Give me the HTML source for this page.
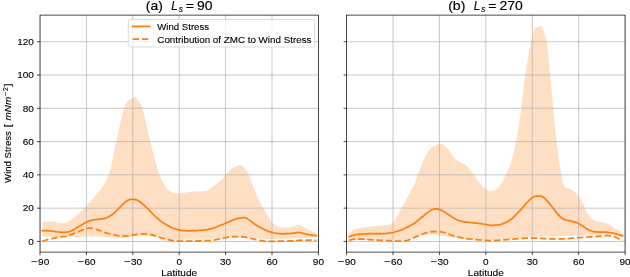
<!DOCTYPE html>
<html><head><meta charset="utf-8"><title>Wind Stress</title>
<style>html,body{margin:0;padding:0;background:#fff}body{width:630px;height:277px;overflow:hidden;font-family:"Liberation Sans",sans-serif}</style>
</head><body>
<svg width="630" height="277" viewBox="0 0 630 277" style="display:block;will-change:transform;font-family:'Liberation Sans',sans-serif">
<rect x="0" y="0" width="630" height="277" fill="#ffffff"/>
<defs>
<clipPath id="c0"><rect x="40.00" y="15.10" width="278.40" height="237.00"/></clipPath>
<clipPath id="c1"><rect x="346.60" y="15.10" width="278.50" height="237.00"/></clipPath>
</defs>
<g clip-path="url(#c0)">
<path d="M42.3,222.1 L43.3,221.9 L44.3,221.7 L45.3,221.6 L46.3,221.5 L47.3,221.4 L48.3,221.4 L49.3,221.4 L50.3,221.5 L51.3,221.5 L52.3,221.6 L53.3,221.7 L54.3,221.7 L55.3,221.9 L56.3,222.2 L57.3,222.5 L58.3,222.7 L59.3,222.9 L60.3,222.9 L61.3,222.9 L62.3,222.9 L63.3,222.9 L64.3,222.9 L65.3,222.8 L66.3,222.5 L67.3,222.1 L68.3,221.5 L69.3,221.0 L70.3,220.4 L71.3,219.7 L72.3,218.9 L73.3,218.1 L74.3,217.2 L75.3,216.4 L76.3,215.5 L77.3,214.6 L78.3,213.7 L79.3,212.7 L80.3,211.8 L81.3,210.8 L82.3,209.9 L83.3,208.9 L84.3,207.9 L85.3,206.8 L86.3,205.8 L87.3,204.7 L88.3,203.6 L89.3,202.4 L90.3,201.3 L91.3,200.1 L92.3,199.0 L93.3,197.9 L94.3,196.7 L95.3,195.6 L96.3,194.5 L97.3,193.4 L98.3,192.2 L99.3,191.0 L100.3,189.7 L101.3,188.4 L102.3,187.1 L103.3,185.6 L104.3,184.1 L105.3,182.4 L106.3,180.6 L107.3,178.5 L108.3,176.0 L109.3,173.1 L110.3,169.5 L111.3,165.6 L112.3,161.4 L113.3,156.7 L114.3,151.3 L115.3,145.5 L116.3,140.9 L117.3,136.7 L118.3,132.2 L119.3,127.7 L120.3,123.2 L121.3,118.7 L122.3,114.5 L123.3,110.6 L124.3,107.4 L125.3,105.1 L126.3,103.2 L127.3,101.7 L128.3,100.5 L129.3,99.7 L130.3,99.1 L131.3,98.7 L132.3,98.2 L133.3,97.7 L134.3,97.3 L135.3,97.1 L136.3,97.6 L137.3,99.2 L138.3,100.9 L139.3,102.3 L140.3,103.4 L141.3,104.9 L142.3,107.5 L143.3,111.7 L144.3,115.6 L145.3,119.6 L146.3,123.9 L147.3,128.7 L148.3,133.3 L149.3,137.3 L150.3,141.3 L151.3,145.3 L152.3,149.7 L153.3,154.0 L154.3,158.0 L155.3,161.8 L156.3,165.3 L157.3,168.6 L158.3,171.6 L159.3,174.3 L160.3,176.8 L161.3,179.1 L162.3,181.2 L163.3,183.1 L164.3,184.9 L165.3,186.5 L166.3,187.8 L167.3,188.9 L168.3,189.9 L169.3,190.7 L170.3,191.4 L171.3,192.0 L172.3,192.5 L173.3,192.9 L174.3,193.2 L175.3,193.4 L176.3,193.4 L177.3,193.3 L178.3,193.2 L179.3,193.1 L180.3,193.0 L181.3,192.9 L182.3,192.8 L183.3,192.7 L184.3,192.6 L185.3,192.6 L186.3,192.5 L187.3,192.3 L188.3,192.2 L189.3,192.0 L190.3,191.7 L191.3,191.5 L192.3,191.3 L193.3,191.2 L194.3,191.2 L195.3,191.2 L196.3,191.3 L197.3,191.3 L198.3,191.4 L199.3,191.4 L200.3,191.4 L201.3,191.4 L202.3,191.3 L203.3,191.3 L204.3,191.2 L205.3,191.1 L206.3,190.9 L207.3,190.5 L208.3,189.9 L209.3,189.1 L210.3,188.4 L211.3,187.7 L212.3,187.0 L213.3,186.2 L214.3,185.4 L215.3,184.7 L216.3,183.9 L217.3,183.2 L218.3,182.5 L219.3,181.7 L220.3,180.9 L221.3,180.0 L222.3,179.1 L223.3,178.1 L224.3,177.0 L225.3,175.8 L226.3,174.5 L227.3,173.0 L228.3,171.7 L229.3,170.7 L230.3,169.9 L231.3,169.1 L232.3,168.5 L233.3,167.8 L234.3,167.2 L235.3,166.7 L236.3,166.2 L237.3,165.9 L238.3,165.6 L239.3,165.3 L240.3,165.2 L241.3,165.4 L242.3,166.2 L243.3,167.2 L244.3,168.2 L245.3,169.3 L246.3,170.5 L247.3,172.1 L248.3,174.0 L249.3,176.2 L250.3,178.7 L251.3,181.5 L252.3,184.2 L253.3,186.9 L254.3,189.7 L255.3,192.3 L256.3,194.7 L257.3,196.7 L258.3,198.7 L259.3,200.6 L260.3,202.6 L261.3,204.6 L262.3,206.5 L263.3,208.4 L264.3,210.1 L265.3,211.7 L266.3,213.3 L267.3,215.0 L268.3,216.8 L269.3,218.5 L270.3,219.9 L271.3,221.2 L272.3,222.4 L273.3,223.4 L274.3,224.2 L275.3,225.0 L276.3,225.6 L277.3,226.2 L278.3,226.6 L279.3,227.0 L280.3,227.3 L281.3,227.5 L282.3,227.6 L283.3,227.6 L284.3,227.6 L285.3,227.6 L286.3,227.6 L287.3,227.6 L288.3,227.5 L289.3,227.4 L290.3,227.2 L291.3,227.0 L292.3,226.7 L293.3,226.4 L294.3,226.0 L295.3,225.7 L296.3,225.3 L297.3,225.0 L298.3,224.8 L299.3,224.9 L300.3,225.3 L301.3,225.7 L302.3,226.2 L303.3,226.6 L304.3,227.1 L305.3,227.7 L306.3,228.3 L307.3,229.0 L308.3,229.8 L309.3,230.4 L310.3,230.8 L311.3,231.0 L312.3,231.2 L313.3,231.5 L314.3,231.8 L315.3,232.1 L316.3,232.4 L316.3,237.8 L315.3,237.8 L314.3,237.8 L313.3,237.8 L312.3,237.8 L311.3,237.8 L310.3,237.8 L309.3,237.8 L308.3,237.8 L307.3,237.8 L306.3,237.9 L305.3,237.9 L304.3,237.9 L303.3,237.9 L302.3,237.9 L301.3,237.9 L300.3,238.0 L299.3,238.0 L298.3,238.1 L297.3,238.1 L296.3,238.2 L295.3,238.3 L294.3,238.3 L293.3,238.4 L292.3,238.5 L291.3,238.5 L290.3,238.6 L289.3,238.6 L288.3,238.7 L287.3,238.8 L286.3,238.8 L285.3,238.9 L284.3,238.9 L283.3,239.0 L282.3,239.1 L281.3,239.1 L280.3,239.2 L279.3,239.2 L278.3,239.2 L277.3,239.3 L276.3,239.3 L275.3,239.3 L274.3,239.3 L273.3,239.3 L272.3,239.3 L271.3,239.2 L270.3,239.2 L269.3,239.1 L268.3,239.1 L267.3,239.0 L266.3,238.9 L265.3,238.9 L264.3,238.8 L263.3,238.7 L262.3,238.7 L261.3,238.6 L260.3,238.5 L259.3,238.4 L258.3,238.4 L257.3,238.3 L256.3,238.2 L255.3,238.1 L254.3,237.9 L253.3,237.8 L252.3,237.7 L251.3,237.6 L250.3,237.5 L249.3,237.4 L248.3,237.3 L247.3,237.3 L246.3,237.2 L245.3,237.2 L244.3,237.2 L243.3,237.2 L242.3,237.2 L241.3,237.2 L240.3,237.3 L239.3,237.3 L238.3,237.3 L237.3,237.3 L236.3,237.4 L235.3,237.4 L234.3,237.4 L233.3,237.5 L232.3,237.5 L231.3,237.5 L230.3,237.6 L229.3,237.6 L228.3,237.7 L227.3,237.8 L226.3,237.8 L225.3,237.9 L224.3,238.0 L223.3,238.1 L222.3,238.2 L221.3,238.3 L220.3,238.4 L219.3,238.5 L218.3,238.6 L217.3,238.6 L216.3,238.7 L215.3,238.8 L214.3,238.8 L213.3,238.9 L212.3,239.0 L211.3,239.0 L210.3,239.1 L209.3,239.1 L208.3,239.2 L207.3,239.2 L206.3,239.3 L205.3,239.3 L204.3,239.4 L203.3,239.4 L202.3,239.5 L201.3,239.5 L200.3,239.5 L199.3,239.5 L198.3,239.5 L197.3,239.5 L196.3,239.5 L195.3,239.5 L194.3,239.5 L193.3,239.5 L192.3,239.5 L191.3,239.6 L190.3,239.6 L189.3,239.6 L188.3,239.6 L187.3,239.6 L186.3,239.6 L185.3,239.6 L184.3,239.6 L183.3,239.7 L182.3,239.7 L181.3,239.8 L180.3,239.9 L179.3,240.0 L178.3,240.1 L177.3,240.2 L176.3,240.3 L175.3,240.3 L174.3,240.3 L173.3,240.3 L172.3,240.2 L171.3,240.1 L170.3,240.1 L169.3,240.0 L168.3,239.8 L167.3,239.7 L166.3,239.6 L165.3,239.5 L164.3,239.3 L163.3,239.2 L162.3,239.0 L161.3,238.8 L160.3,238.6 L159.3,238.3 L158.3,238.0 L157.3,237.8 L156.3,237.5 L155.3,237.3 L154.3,237.1 L153.3,236.9 L152.3,236.7 L151.3,236.5 L150.3,236.3 L149.3,236.2 L148.3,236.1 L147.3,236.0 L146.3,236.0 L145.3,236.0 L144.3,236.1 L143.3,236.1 L142.3,236.2 L141.3,236.2 L140.3,236.3 L139.3,236.4 L138.3,236.5 L137.3,236.6 L136.3,236.6 L135.3,236.7 L134.3,236.8 L133.3,236.9 L132.3,236.9 L131.3,237.0 L130.3,237.1 L129.3,237.2 L128.3,237.3 L127.3,237.4 L126.3,237.5 L125.3,237.6 L124.3,237.6 L123.3,237.7 L122.3,237.8 L121.3,237.8 L120.3,237.9 L119.3,237.9 L118.3,237.9 L117.3,237.9 L116.3,237.9 L115.3,237.8 L114.3,237.8 L113.3,237.7 L112.3,237.7 L111.3,237.6 L110.3,237.5 L109.3,237.4 L108.3,237.4 L107.3,237.3 L106.3,237.2 L105.3,237.2 L104.3,237.1 L103.3,237.1 L102.3,237.0 L101.3,237.0 L100.3,236.9 L99.3,236.8 L98.3,236.8 L97.3,236.7 L96.3,236.7 L95.3,236.6 L94.3,236.6 L93.3,236.6 L92.3,236.5 L91.3,236.5 L90.3,236.5 L89.3,236.5 L88.3,236.5 L87.3,236.5 L86.3,236.6 L85.3,236.6 L84.3,236.7 L83.3,236.7 L82.3,236.8 L81.3,236.8 L80.3,236.9 L79.3,236.9 L78.3,236.9 L77.3,237.0 L76.3,237.0 L75.3,237.0 L74.3,237.0 L73.3,237.0 L72.3,237.0 L71.3,237.0 L70.3,237.0 L69.3,237.0 L68.3,237.0 L67.3,237.0 L66.3,237.0 L65.3,237.0 L64.3,237.0 L63.3,237.0 L62.3,237.0 L61.3,237.0 L60.3,237.0 L59.3,237.0 L58.3,237.0 L57.3,237.0 L56.3,237.0 L55.3,237.0 L54.3,237.0 L53.3,236.9 L52.3,236.9 L51.3,236.9 L50.3,236.9 L49.3,236.9 L48.3,236.8 L47.3,236.8 L46.3,236.8 L45.3,236.8 L44.3,236.8 L43.3,236.7 L42.3,236.7Z" fill="#ffdfc3" stroke="none"/>
<line x1="40.00" y1="15.10" x2="40.00" y2="252.10" stroke="#b0b0b0" stroke-width="0.7"/>
<line x1="86.40" y1="15.10" x2="86.40" y2="252.10" stroke="#b0b0b0" stroke-width="0.7"/>
<line x1="132.80" y1="15.10" x2="132.80" y2="252.10" stroke="#b0b0b0" stroke-width="0.7"/>
<line x1="179.20" y1="15.10" x2="179.20" y2="252.10" stroke="#b0b0b0" stroke-width="0.7"/>
<line x1="225.60" y1="15.10" x2="225.60" y2="252.10" stroke="#b0b0b0" stroke-width="0.7"/>
<line x1="272.00" y1="15.10" x2="272.00" y2="252.10" stroke="#b0b0b0" stroke-width="0.7"/>
<line x1="318.40" y1="15.10" x2="318.40" y2="252.10" stroke="#b0b0b0" stroke-width="0.7"/>
<line x1="40.00" y1="241.45" x2="318.40" y2="241.45" stroke="#b0b0b0" stroke-width="0.7"/>
<line x1="40.00" y1="208.16" x2="318.40" y2="208.16" stroke="#b0b0b0" stroke-width="0.7"/>
<line x1="40.00" y1="174.87" x2="318.40" y2="174.87" stroke="#b0b0b0" stroke-width="0.7"/>
<line x1="40.00" y1="141.58" x2="318.40" y2="141.58" stroke="#b0b0b0" stroke-width="0.7"/>
<line x1="40.00" y1="108.29" x2="318.40" y2="108.29" stroke="#b0b0b0" stroke-width="0.7"/>
<line x1="40.00" y1="75.00" x2="318.40" y2="75.00" stroke="#b0b0b0" stroke-width="0.7"/>
<line x1="40.00" y1="41.71" x2="318.40" y2="41.71" stroke="#b0b0b0" stroke-width="0.7"/>
<path d="M42.3,230.5 L43.3,230.5 L44.3,230.6 L45.3,230.6 L46.3,230.7 L47.3,230.7 L48.3,230.8 L49.3,230.9 L50.3,231.0 L51.3,231.1 L52.3,231.2 L53.3,231.3 L54.3,231.5 L55.3,231.6 L56.3,231.7 L57.3,231.9 L58.3,232.0 L59.3,232.1 L60.3,232.2 L61.3,232.2 L62.3,232.3 L63.3,232.3 L64.3,232.3 L65.3,232.2 L66.3,232.1 L67.3,232.0 L68.3,231.8 L69.3,231.6 L70.3,231.2 L71.3,230.8 L72.3,230.4 L73.3,229.9 L74.3,229.4 L75.3,228.7 L76.3,228.1 L77.3,227.5 L78.3,226.9 L79.3,226.3 L80.3,225.8 L81.3,225.2 L82.3,224.5 L83.3,223.9 L84.3,223.3 L85.3,222.7 L86.3,222.1 L87.3,221.7 L88.3,221.3 L89.3,220.9 L90.3,220.6 L91.3,220.3 L92.3,220.1 L93.3,220.0 L94.3,219.8 L95.3,219.7 L96.3,219.5 L97.3,219.4 L98.3,219.3 L99.3,219.2 L100.3,219.1 L101.3,218.9 L102.3,218.8 L103.3,218.6 L104.3,218.4 L105.3,218.1 L106.3,217.7 L107.3,217.3 L108.3,216.9 L109.3,216.4 L110.3,215.8 L111.3,215.2 L112.3,214.5 L113.3,213.7 L114.3,212.8 L115.3,211.9 L116.3,210.9 L117.3,209.9 L118.3,208.9 L119.3,207.9 L120.3,206.9 L121.3,205.9 L122.3,204.9 L123.3,203.9 L124.3,203.0 L125.3,202.1 L126.3,201.3 L127.3,200.7 L128.3,200.1 L129.3,199.7 L130.3,199.5 L131.3,199.4 L132.3,199.3 L133.3,199.3 L134.3,199.3 L135.3,199.6 L136.3,199.9 L137.3,200.2 L138.3,200.7 L139.3,201.3 L140.3,202.0 L141.3,202.8 L142.3,203.6 L143.3,204.6 L144.3,205.5 L145.3,206.4 L146.3,207.4 L147.3,208.4 L148.3,209.4 L149.3,210.4 L150.3,211.4 L151.3,212.4 L152.3,213.4 L153.3,214.5 L154.3,215.5 L155.3,216.5 L156.3,217.4 L157.3,218.2 L158.3,219.1 L159.3,219.9 L160.3,220.7 L161.3,221.4 L162.3,222.2 L163.3,222.9 L164.3,223.6 L165.3,224.2 L166.3,224.8 L167.3,225.4 L168.3,225.9 L169.3,226.4 L170.3,226.9 L171.3,227.4 L172.3,227.9 L173.3,228.3 L174.3,228.6 L175.3,229.0 L176.3,229.2 L177.3,229.5 L178.3,229.7 L179.3,229.9 L180.3,230.1 L181.3,230.3 L182.3,230.4 L183.3,230.6 L184.3,230.6 L185.3,230.7 L186.3,230.8 L187.3,230.8 L188.3,230.8 L189.3,230.8 L190.3,230.8 L191.3,230.8 L192.3,230.7 L193.3,230.7 L194.3,230.7 L195.3,230.7 L196.3,230.6 L197.3,230.6 L198.3,230.5 L199.3,230.4 L200.3,230.4 L201.3,230.3 L202.3,230.2 L203.3,230.1 L204.3,230.0 L205.3,229.9 L206.3,229.8 L207.3,229.6 L208.3,229.4 L209.3,229.1 L210.3,228.9 L211.3,228.7 L212.3,228.4 L213.3,228.2 L214.3,227.9 L215.3,227.5 L216.3,227.1 L217.3,226.7 L218.3,226.2 L219.3,225.8 L220.3,225.4 L221.3,225.0 L222.3,224.6 L223.3,224.2 L224.3,223.8 L225.3,223.3 L226.3,222.9 L227.3,222.5 L228.3,222.0 L229.3,221.6 L230.3,221.1 L231.3,220.6 L232.3,220.2 L233.3,219.7 L234.3,219.4 L235.3,219.0 L236.3,218.8 L237.3,218.5 L238.3,218.3 L239.3,218.1 L240.3,218.0 L241.3,217.9 L242.3,217.8 L243.3,217.7 L244.3,217.6 L245.3,217.6 L246.3,217.9 L247.3,218.6 L248.3,219.4 L249.3,220.1 L250.3,220.9 L251.3,221.6 L252.3,222.4 L253.3,223.1 L254.3,223.8 L255.3,224.5 L256.3,225.1 L257.3,225.8 L258.3,226.4 L259.3,227.0 L260.3,227.5 L261.3,228.0 L262.3,228.6 L263.3,229.0 L264.3,229.5 L265.3,230.0 L266.3,230.4 L267.3,230.8 L268.3,231.2 L269.3,231.6 L270.3,231.9 L271.3,232.2 L272.3,232.5 L273.3,232.8 L274.3,233.0 L275.3,233.2 L276.3,233.3 L277.3,233.4 L278.3,233.6 L279.3,233.7 L280.3,233.7 L281.3,233.8 L282.3,233.8 L283.3,233.8 L284.3,233.8 L285.3,233.7 L286.3,233.7 L287.3,233.6 L288.3,233.6 L289.3,233.5 L290.3,233.5 L291.3,233.4 L292.3,233.3 L293.3,233.2 L294.3,233.1 L295.3,232.9 L296.3,232.7 L297.3,232.5 L298.3,232.4 L299.3,232.5 L300.3,232.6 L301.3,232.9 L302.3,233.1 L303.3,233.3 L304.3,233.6 L305.3,233.8 L306.3,234.1 L307.3,234.3 L308.3,234.6 L309.3,234.8 L310.3,235.0 L311.3,235.1 L312.3,235.2 L313.3,235.3 L314.3,235.4 L315.3,235.5 L316.3,235.5" fill="none" stroke="#ff7f0e" stroke-width="1.75" stroke-linecap="square" stroke-linejoin="round"/>
<path d="M42.3,241.4 L43.3,241.0 L44.3,240.6 L45.3,240.3 L46.3,240.0 L47.3,239.7 L48.3,239.4 L49.3,239.2 L50.3,238.9 L51.3,238.7 L52.3,238.5 L53.3,238.3 L54.3,238.1 L55.3,237.9 L56.3,237.7 L57.3,237.5 L58.3,237.3 L59.3,237.1 L60.3,236.9 L61.3,236.8 L62.3,236.7 L63.3,236.6 L64.3,236.5 L65.3,236.4 L66.3,236.2 L67.3,235.9 L68.3,235.6 L69.3,235.2 L70.3,234.8 L71.3,234.4 L72.3,234.1 L73.3,233.7 L74.3,233.3 L75.3,232.9 L76.3,232.5 L77.3,232.1 L78.3,231.7 L79.3,231.3 L80.3,230.8 L81.3,230.4 L82.3,230.1 L83.3,229.7 L84.3,229.3 L85.3,229.0 L86.3,228.6 L87.3,228.3 L88.3,228.2 L89.3,228.2 L90.3,228.2 L91.3,228.3 L92.3,228.3 L93.3,228.5 L94.3,228.8 L95.3,229.1 L96.3,229.4 L97.3,229.8 L98.3,230.1 L99.3,230.4 L100.3,230.8 L101.3,231.2 L102.3,231.6 L103.3,232.0 L104.3,232.4 L105.3,232.7 L106.3,233.0 L107.3,233.3 L108.3,233.5 L109.3,233.8 L110.3,234.0 L111.3,234.3 L112.3,234.5 L113.3,234.7 L114.3,234.9 L115.3,235.1 L116.3,235.3 L117.3,235.5 L118.3,235.7 L119.3,235.8 L120.3,235.9 L121.3,236.0 L122.3,236.0 L123.3,236.1 L124.3,236.1 L125.3,236.1 L126.3,236.0 L127.3,235.9 L128.3,235.8 L129.3,235.7 L130.3,235.5 L131.3,235.3 L132.3,235.1 L133.3,234.9 L134.3,234.8 L135.3,234.6 L136.3,234.5 L137.3,234.3 L138.3,234.2 L139.3,234.1 L140.3,234.0 L141.3,234.0 L142.3,233.9 L143.3,233.9 L144.3,233.9 L145.3,234.0 L146.3,234.0 L147.3,234.1 L148.3,234.1 L149.3,234.3 L150.3,234.4 L151.3,234.7 L152.3,234.9 L153.3,235.2 L154.3,235.5 L155.3,235.8 L156.3,236.1 L157.3,236.5 L158.3,236.8 L159.3,237.1 L160.3,237.5 L161.3,237.8 L162.3,238.1 L163.3,238.4 L164.3,238.7 L165.3,239.0 L166.3,239.2 L167.3,239.5 L168.3,239.7 L169.3,239.9 L170.3,240.2 L171.3,240.3 L172.3,240.5 L173.3,240.6 L174.3,240.7 L175.3,240.8 L176.3,240.9 L177.3,240.9 L178.3,240.9 L179.3,241.0 L180.3,241.0 L181.3,241.0 L182.3,241.0 L183.3,241.0 L184.3,241.0 L185.3,241.0 L186.3,241.0 L187.3,241.0 L188.3,241.0 L189.3,241.0 L190.3,241.0 L191.3,241.0 L192.3,241.0 L193.3,241.0 L194.3,240.9 L195.3,240.9 L196.3,240.9 L197.3,240.9 L198.3,240.9 L199.3,240.9 L200.3,240.9 L201.3,240.9 L202.3,240.8 L203.3,240.8 L204.3,240.8 L205.3,240.7 L206.3,240.7 L207.3,240.6 L208.3,240.6 L209.3,240.5 L210.3,240.5 L211.3,240.4 L212.3,240.3 L213.3,240.2 L214.3,240.0 L215.3,239.8 L216.3,239.6 L217.3,239.4 L218.3,239.2 L219.3,239.0 L220.3,238.8 L221.3,238.6 L222.3,238.4 L223.3,238.2 L224.3,238.0 L225.3,237.8 L226.3,237.6 L227.3,237.4 L228.3,237.2 L229.3,237.1 L230.3,236.9 L231.3,236.8 L232.3,236.7 L233.3,236.7 L234.3,236.6 L235.3,236.6 L236.3,236.6 L237.3,236.6 L238.3,236.6 L239.3,236.6 L240.3,236.7 L241.3,236.8 L242.3,236.8 L243.3,236.9 L244.3,237.1 L245.3,237.2 L246.3,237.4 L247.3,237.6 L248.3,237.8 L249.3,238.0 L250.3,238.2 L251.3,238.5 L252.3,238.7 L253.3,239.0 L254.3,239.2 L255.3,239.4 L256.3,239.6 L257.3,239.9 L258.3,240.1 L259.3,240.3 L260.3,240.4 L261.3,240.6 L262.3,240.7 L263.3,240.9 L264.3,241.0 L265.3,241.1 L266.3,241.2 L267.3,241.2 L268.3,241.3 L269.3,241.3 L270.3,241.4 L271.3,241.4 L272.3,241.4 L273.3,241.4 L274.3,241.4 L275.3,241.4 L276.3,241.3 L277.3,241.3 L278.3,241.2 L279.3,241.2 L280.3,241.2 L281.3,241.2 L282.3,241.1 L283.3,241.1 L284.3,241.1 L285.3,241.1 L286.3,241.0 L287.3,241.0 L288.3,241.0 L289.3,240.9 L290.3,240.9 L291.3,240.8 L292.3,240.8 L293.3,240.7 L294.3,240.7 L295.3,240.6 L296.3,240.5 L297.3,240.5 L298.3,240.4 L299.3,240.3 L300.3,240.2 L301.3,240.2 L302.3,240.2 L303.3,240.1 L304.3,240.1 L305.3,240.0 L306.3,240.0 L307.3,240.0 L308.3,240.0 L309.3,240.0 L310.3,240.0 L311.3,240.1 L312.3,240.1 L313.3,240.1 L314.3,240.2 L315.3,240.3 L316.3,240.5" fill="none" stroke="#ff7f0e" stroke-width="1.75" stroke-dasharray="6.45 2.8" stroke-linecap="butt" stroke-linejoin="round"/>
</g>
<line x1="40.00" y1="252.10" x2="40.00" y2="255.15" stroke="#000" stroke-width="0.7"/>
<line x1="86.40" y1="252.10" x2="86.40" y2="255.15" stroke="#000" stroke-width="0.7"/>
<line x1="132.80" y1="252.10" x2="132.80" y2="255.15" stroke="#000" stroke-width="0.7"/>
<line x1="179.20" y1="252.10" x2="179.20" y2="255.15" stroke="#000" stroke-width="0.7"/>
<line x1="225.60" y1="252.10" x2="225.60" y2="255.15" stroke="#000" stroke-width="0.7"/>
<line x1="272.00" y1="252.10" x2="272.00" y2="255.15" stroke="#000" stroke-width="0.7"/>
<line x1="318.40" y1="252.10" x2="318.40" y2="255.15" stroke="#000" stroke-width="0.7"/>
<line x1="36.95" y1="241.45" x2="40.00" y2="241.45" stroke="#000" stroke-width="0.7"/>
<line x1="36.95" y1="208.16" x2="40.00" y2="208.16" stroke="#000" stroke-width="0.7"/>
<line x1="36.95" y1="174.87" x2="40.00" y2="174.87" stroke="#000" stroke-width="0.7"/>
<line x1="36.95" y1="141.58" x2="40.00" y2="141.58" stroke="#000" stroke-width="0.7"/>
<line x1="36.95" y1="108.29" x2="40.00" y2="108.29" stroke="#000" stroke-width="0.7"/>
<line x1="36.95" y1="75.00" x2="40.00" y2="75.00" stroke="#000" stroke-width="0.7"/>
<line x1="36.95" y1="41.71" x2="40.00" y2="41.71" stroke="#000" stroke-width="0.7"/>
<rect x="40.00" y="15.10" width="278.40" height="237.00" fill="none" stroke="#000" stroke-width="0.7"/>
<text x="31.11" y="265.10" font-size="9.20" textLength="6.66" lengthAdjust="spacingAndGlyphs" fill="#000" stroke="#000" stroke-width="0.12" >−</text><text x="38.10" y="265.10" font-size="9.20" textLength="11.15" lengthAdjust="spacingAndGlyphs" fill="#000" stroke="#000" stroke-width="0.12" >90</text>
<text x="77.51" y="265.10" font-size="9.20" textLength="6.66" lengthAdjust="spacingAndGlyphs" fill="#000" stroke="#000" stroke-width="0.12" >−</text><text x="84.50" y="265.10" font-size="9.20" textLength="11.15" lengthAdjust="spacingAndGlyphs" fill="#000" stroke="#000" stroke-width="0.12" >60</text>
<text x="123.91" y="265.10" font-size="9.20" textLength="6.66" lengthAdjust="spacingAndGlyphs" fill="#000" stroke="#000" stroke-width="0.12" >−</text><text x="130.90" y="265.10" font-size="9.20" textLength="11.15" lengthAdjust="spacingAndGlyphs" fill="#000" stroke="#000" stroke-width="0.12" >30</text>
<text x="176.41" y="265.10" font-size="9.20" textLength="5.57" lengthAdjust="spacingAndGlyphs" fill="#000" stroke="#000" stroke-width="0.12" >0</text>
<text x="220.03" y="265.10" font-size="9.20" textLength="11.15" lengthAdjust="spacingAndGlyphs" fill="#000" stroke="#000" stroke-width="0.12" >30</text>
<text x="266.43" y="265.10" font-size="9.20" textLength="11.15" lengthAdjust="spacingAndGlyphs" fill="#000" stroke="#000" stroke-width="0.12" >60</text>
<text x="312.83" y="265.10" font-size="9.20" textLength="11.15" lengthAdjust="spacingAndGlyphs" fill="#000" stroke="#000" stroke-width="0.12" >90</text>
<text x="161.17" y="276.30" font-size="9.20" textLength="36.06" lengthAdjust="spacingAndGlyphs" fill="#000" stroke="#000" stroke-width="0.12" >Latitude</text>
<g clip-path="url(#c1)">
<path d="M349.0,234.1 L350.0,232.8 L351.0,231.7 L352.0,230.8 L353.0,230.1 L354.0,229.5 L355.0,229.1 L356.0,228.8 L357.0,228.6 L358.0,228.3 L359.0,228.2 L360.0,228.0 L361.0,227.8 L362.0,227.6 L363.0,227.5 L364.0,227.3 L365.0,227.2 L366.0,227.1 L367.0,226.9 L368.0,226.8 L369.0,226.6 L370.0,226.5 L371.0,226.4 L372.0,226.3 L373.0,226.2 L374.0,226.1 L375.0,226.0 L376.0,226.0 L377.0,225.9 L378.0,225.9 L379.0,225.8 L380.0,225.7 L381.0,225.7 L382.0,225.6 L383.0,225.5 L384.0,225.4 L385.0,225.3 L386.0,225.2 L387.0,225.1 L388.0,224.9 L389.0,224.5 L390.0,224.0 L391.0,223.4 L392.0,222.9 L393.0,222.2 L394.0,221.1 L395.0,219.6 L396.0,217.9 L397.0,216.3 L398.0,214.6 L399.0,212.8 L400.0,210.9 L401.0,209.0 L402.0,207.1 L403.0,205.2 L404.0,203.4 L405.0,201.6 L406.0,199.8 L407.0,198.1 L408.0,196.4 L409.0,194.4 L410.0,192.4 L411.0,190.7 L412.0,189.2 L413.0,187.3 L414.0,185.0 L415.0,182.5 L416.0,180.0 L417.0,177.4 L418.0,174.8 L419.0,172.1 L420.0,169.4 L421.0,166.7 L422.0,164.0 L423.0,161.5 L424.0,159.2 L425.0,157.1 L426.0,155.2 L427.0,153.5 L428.0,151.8 L429.0,150.2 L430.0,148.9 L431.0,148.0 L432.0,147.2 L433.0,146.5 L434.0,145.9 L435.0,145.4 L436.0,144.9 L437.0,144.5 L438.0,144.3 L439.0,144.3 L440.0,144.3 L441.0,144.3 L442.0,144.3 L443.0,144.5 L444.0,145.1 L445.0,146.0 L446.0,146.9 L447.0,147.9 L448.0,149.2 L449.0,150.5 L450.0,151.8 L451.0,153.3 L452.0,154.9 L453.0,156.2 L454.0,157.4 L455.0,158.5 L456.0,159.4 L457.0,160.2 L458.0,160.8 L459.0,161.4 L460.0,161.9 L461.0,162.4 L462.0,162.9 L463.0,163.4 L464.0,163.8 L465.0,164.3 L466.0,165.0 L467.0,166.1 L468.0,167.3 L469.0,168.6 L470.0,169.8 L471.0,171.1 L472.0,172.4 L473.0,173.8 L474.0,175.1 L475.0,176.5 L476.0,178.0 L477.0,179.5 L478.0,180.9 L479.0,182.3 L480.0,183.6 L481.0,184.8 L482.0,186.0 L483.0,187.1 L484.0,188.0 L485.0,188.8 L486.0,189.6 L487.0,190.2 L488.0,190.6 L489.0,190.7 L490.0,190.7 L491.0,190.7 L492.0,190.7 L493.0,190.7 L494.0,190.6 L495.0,190.2 L496.0,189.6 L497.0,188.8 L498.0,187.9 L499.0,186.8 L500.0,185.4 L501.0,183.8 L502.0,182.1 L503.0,180.4 L504.0,178.6 L505.0,176.6 L506.0,174.6 L507.0,172.5 L508.0,170.2 L509.0,167.8 L510.0,165.2 L511.0,162.4 L512.0,159.3 L513.0,155.5 L514.0,150.7 L515.0,145.9 L516.0,141.6 L517.0,137.1 L518.0,131.7 L519.0,125.7 L520.0,118.9 L521.0,111.1 L522.0,101.9 L523.0,93.0 L524.0,84.4 L525.0,76.4 L526.0,70.2 L527.0,64.2 L528.0,57.8 L529.0,52.5 L530.0,47.7 L531.0,42.6 L532.0,37.7 L533.0,32.9 L534.0,29.2 L535.0,28.2 L536.0,27.6 L537.0,27.3 L538.0,26.9 L539.0,26.5 L540.0,26.0 L541.0,25.6 L542.0,26.3 L543.0,29.5 L544.0,32.8 L545.0,35.4 L546.0,38.6 L547.0,43.6 L548.0,51.0 L549.0,62.0 L550.0,72.9 L551.0,83.9 L552.0,94.9 L553.0,106.4 L554.0,117.2 L555.0,126.7 L556.0,135.7 L557.0,144.5 L558.0,153.0 L559.0,160.4 L560.0,167.0 L561.0,173.1 L562.0,178.3 L563.0,182.7 L564.0,185.3 L565.0,186.9 L566.0,187.6 L567.0,188.0 L568.0,188.3 L569.0,188.7 L570.0,189.1 L571.0,189.6 L572.0,190.2 L573.0,190.8 L574.0,191.5 L575.0,192.3 L576.0,193.2 L577.0,194.1 L578.0,195.1 L579.0,196.3 L580.0,197.8 L581.0,199.6 L582.0,201.6 L583.0,203.6 L584.0,205.9 L585.0,208.1 L586.0,210.2 L587.0,212.1 L588.0,213.9 L589.0,215.5 L590.0,216.8 L591.0,218.0 L592.0,219.0 L593.0,219.7 L594.0,220.3 L595.0,220.7 L596.0,221.0 L597.0,221.3 L598.0,221.4 L599.0,221.6 L600.0,221.7 L601.0,221.8 L602.0,222.0 L603.0,222.3 L604.0,222.6 L605.0,222.9 L606.0,223.2 L607.0,223.6 L608.0,224.1 L609.0,224.6 L610.0,225.1 L611.0,225.7 L612.0,226.3 L613.0,226.9 L614.0,227.5 L615.0,228.2 L616.0,228.8 L617.0,229.4 L618.0,229.9 L619.0,230.5 L620.0,231.1 L621.0,231.8 L622.0,232.4 L622.6,232.8 L622.6,237.4 L622.0,237.3 L621.0,237.0 L620.0,236.8 L619.0,236.5 L618.0,236.3 L617.0,236.0 L616.0,235.8 L615.0,235.5 L614.0,235.2 L613.0,235.0 L612.0,234.9 L611.0,234.8 L610.0,234.8 L609.0,234.7 L608.0,234.7 L607.0,234.6 L606.0,234.6 L605.0,234.6 L604.0,234.6 L603.0,234.7 L602.0,234.7 L601.0,234.8 L600.0,234.9 L599.0,235.0 L598.0,235.1 L597.0,235.2 L596.0,235.3 L595.0,235.3 L594.0,235.3 L593.0,235.4 L592.0,235.4 L591.0,235.4 L590.0,235.4 L589.0,235.4 L588.0,235.5 L587.0,235.5 L586.0,235.5 L585.0,235.5 L584.0,235.5 L583.0,235.6 L582.0,235.6 L581.0,235.6 L580.0,235.6 L579.0,235.7 L578.0,235.7 L577.0,235.7 L576.0,235.7 L575.0,235.8 L574.0,235.8 L573.0,235.8 L572.0,235.9 L571.0,235.9 L570.0,235.9 L569.0,235.9 L568.0,236.0 L567.0,236.0 L566.0,236.0 L565.0,236.0 L564.0,236.1 L563.0,236.1 L562.0,236.1 L561.0,236.1 L560.0,236.2 L559.0,236.2 L558.0,236.2 L557.0,236.2 L556.0,236.2 L555.0,236.3 L554.0,236.3 L553.0,236.3 L552.0,236.3 L551.0,236.3 L550.0,236.3 L549.0,236.3 L548.0,236.3 L547.0,236.3 L546.0,236.3 L545.0,236.3 L544.0,236.4 L543.0,236.4 L542.0,236.4 L541.0,236.4 L540.0,236.4 L539.0,236.4 L538.0,236.4 L537.0,236.4 L536.0,236.5 L535.0,236.5 L534.0,236.6 L533.0,236.6 L532.0,236.7 L531.0,236.8 L530.0,236.9 L529.0,237.0 L528.0,237.1 L527.0,237.2 L526.0,237.3 L525.0,237.4 L524.0,237.5 L523.0,237.7 L522.0,237.8 L521.0,238.0 L520.0,238.1 L519.0,238.2 L518.0,238.3 L517.0,238.3 L516.0,238.4 L515.0,238.5 L514.0,238.6 L513.0,238.7 L512.0,238.7 L511.0,238.8 L510.0,238.9 L509.0,238.9 L508.0,239.0 L507.0,239.1 L506.0,239.1 L505.0,239.2 L504.0,239.3 L503.0,239.3 L502.0,239.4 L501.0,239.5 L500.0,239.6 L499.0,239.6 L498.0,239.7 L497.0,239.8 L496.0,239.8 L495.0,239.8 L494.0,239.9 L493.0,239.9 L492.0,239.9 L491.0,239.9 L490.0,239.9 L489.0,239.9 L488.0,239.9 L487.0,239.9 L486.0,239.9 L485.0,239.9 L484.0,239.9 L483.0,239.9 L482.0,239.9 L481.0,239.9 L480.0,239.9 L479.0,239.9 L478.0,239.9 L477.0,239.9 L476.0,239.9 L475.0,239.8 L474.0,239.8 L473.0,239.7 L472.0,239.7 L471.0,239.6 L470.0,239.5 L469.0,239.4 L468.0,239.3 L467.0,239.2 L466.0,239.1 L465.0,239.0 L464.0,238.9 L463.0,238.8 L462.0,238.7 L461.0,238.6 L460.0,238.5 L459.0,238.4 L458.0,238.2 L457.0,238.1 L456.0,237.9 L455.0,237.8 L454.0,237.7 L453.0,237.5 L452.0,237.4 L451.0,237.3 L450.0,237.1 L449.0,237.0 L448.0,236.8 L447.0,236.6 L446.0,236.4 L445.0,236.2 L444.0,236.0 L443.0,235.8 L442.0,235.6 L441.0,235.4 L440.0,235.2 L439.0,235.1 L438.0,234.9 L437.0,234.7 L436.0,234.6 L435.0,234.5 L434.0,234.4 L433.0,234.3 L432.0,234.3 L431.0,234.2 L430.0,234.2 L429.0,234.2 L428.0,234.3 L427.0,234.4 L426.0,234.5 L425.0,234.7 L424.0,234.8 L423.0,235.0 L422.0,235.2 L421.0,235.5 L420.0,235.8 L419.0,236.2 L418.0,236.5 L417.0,236.8 L416.0,237.1 L415.0,237.4 L414.0,237.8 L413.0,238.1 L412.0,238.4 L411.0,238.7 L410.0,239.0 L409.0,239.1 L408.0,239.3 L407.0,239.4 L406.0,239.6 L405.0,239.7 L404.0,239.8 L403.0,239.9 L402.0,239.9 L401.0,239.9 L400.0,239.9 L399.0,240.0 L398.0,240.0 L397.0,240.0 L396.0,240.0 L395.0,240.0 L394.0,240.0 L393.0,240.0 L392.0,240.0 L391.0,240.0 L390.0,240.0 L389.0,240.0 L388.0,240.0 L387.0,240.0 L386.0,240.0 L385.0,240.0 L384.0,240.0 L383.0,240.0 L382.0,240.0 L381.0,240.0 L380.0,240.0 L379.0,240.0 L378.0,240.0 L377.0,240.0 L376.0,240.0 L375.0,240.0 L374.0,240.0 L373.0,240.0 L372.0,240.0 L371.0,240.0 L370.0,240.0 L369.0,239.9 L368.0,239.9 L367.0,239.9 L366.0,239.9 L365.0,239.9 L364.0,239.9 L363.0,239.9 L362.0,239.8 L361.0,239.8 L360.0,239.8 L359.0,239.7 L358.0,239.7 L357.0,239.6 L356.0,239.6 L355.0,239.5 L354.0,239.4 L353.0,239.3 L352.0,239.2 L351.0,239.1 L350.0,239.0 L349.0,238.9Z" fill="#ffdfc3" stroke="none"/>
<line x1="346.60" y1="15.10" x2="346.60" y2="252.10" stroke="#b0b0b0" stroke-width="0.7"/>
<line x1="393.02" y1="15.10" x2="393.02" y2="252.10" stroke="#b0b0b0" stroke-width="0.7"/>
<line x1="439.43" y1="15.10" x2="439.43" y2="252.10" stroke="#b0b0b0" stroke-width="0.7"/>
<line x1="485.85" y1="15.10" x2="485.85" y2="252.10" stroke="#b0b0b0" stroke-width="0.7"/>
<line x1="532.27" y1="15.10" x2="532.27" y2="252.10" stroke="#b0b0b0" stroke-width="0.7"/>
<line x1="578.68" y1="15.10" x2="578.68" y2="252.10" stroke="#b0b0b0" stroke-width="0.7"/>
<line x1="625.10" y1="15.10" x2="625.10" y2="252.10" stroke="#b0b0b0" stroke-width="0.7"/>
<line x1="346.60" y1="241.45" x2="625.10" y2="241.45" stroke="#b0b0b0" stroke-width="0.7"/>
<line x1="346.60" y1="208.16" x2="625.10" y2="208.16" stroke="#b0b0b0" stroke-width="0.7"/>
<line x1="346.60" y1="174.87" x2="625.10" y2="174.87" stroke="#b0b0b0" stroke-width="0.7"/>
<line x1="346.60" y1="141.58" x2="625.10" y2="141.58" stroke="#b0b0b0" stroke-width="0.7"/>
<line x1="346.60" y1="108.29" x2="625.10" y2="108.29" stroke="#b0b0b0" stroke-width="0.7"/>
<line x1="346.60" y1="75.00" x2="625.10" y2="75.00" stroke="#b0b0b0" stroke-width="0.7"/>
<line x1="346.60" y1="41.71" x2="625.10" y2="41.71" stroke="#b0b0b0" stroke-width="0.7"/>
<path d="M349.0,236.7 L350.0,236.3 L351.0,235.9 L352.0,235.6 L353.0,235.3 L354.0,235.1 L355.0,234.9 L356.0,234.7 L357.0,234.5 L358.0,234.4 L359.0,234.3 L360.0,234.2 L361.0,234.1 L362.0,234.0 L363.0,234.0 L364.0,233.9 L365.0,233.9 L366.0,233.8 L367.0,233.8 L368.0,233.7 L369.0,233.7 L370.0,233.7 L371.0,233.7 L372.0,233.7 L373.0,233.7 L374.0,233.7 L375.0,233.7 L376.0,233.7 L377.0,233.7 L378.0,233.7 L379.0,233.7 L380.0,233.7 L381.0,233.7 L382.0,233.6 L383.0,233.6 L384.0,233.5 L385.0,233.5 L386.0,233.4 L387.0,233.4 L388.0,233.3 L389.0,233.2 L390.0,233.0 L391.0,232.9 L392.0,232.7 L393.0,232.5 L394.0,232.3 L395.0,232.0 L396.0,231.7 L397.0,231.4 L398.0,231.1 L399.0,230.7 L400.0,230.4 L401.0,230.0 L402.0,229.6 L403.0,229.2 L404.0,228.7 L405.0,228.3 L406.0,227.8 L407.0,227.4 L408.0,226.9 L409.0,226.4 L410.0,225.8 L411.0,225.3 L412.0,224.7 L413.0,224.1 L414.0,223.5 L415.0,222.8 L416.0,222.0 L417.0,221.2 L418.0,220.4 L419.0,219.5 L420.0,218.7 L421.0,217.8 L422.0,217.0 L423.0,216.2 L424.0,215.4 L425.0,214.6 L426.0,213.8 L427.0,213.1 L428.0,212.4 L429.0,211.6 L430.0,210.9 L431.0,210.3 L432.0,209.8 L433.0,209.4 L434.0,209.1 L435.0,208.9 L436.0,208.8 L437.0,208.9 L438.0,209.1 L439.0,209.3 L440.0,209.6 L441.0,210.0 L442.0,210.5 L443.0,211.1 L444.0,211.7 L445.0,212.3 L446.0,212.9 L447.0,213.6 L448.0,214.3 L449.0,214.9 L450.0,215.6 L451.0,216.3 L452.0,216.9 L453.0,217.6 L454.0,218.2 L455.0,218.7 L456.0,219.3 L457.0,219.8 L458.0,220.2 L459.0,220.6 L460.0,220.9 L461.0,221.2 L462.0,221.4 L463.0,221.6 L464.0,221.8 L465.0,221.9 L466.0,222.1 L467.0,222.2 L468.0,222.3 L469.0,222.4 L470.0,222.5 L471.0,222.6 L472.0,222.7 L473.0,222.8 L474.0,222.9 L475.0,223.0 L476.0,223.1 L477.0,223.2 L478.0,223.3 L479.0,223.5 L480.0,223.6 L481.0,223.7 L482.0,223.9 L483.0,224.0 L484.0,224.2 L485.0,224.3 L486.0,224.5 L487.0,224.7 L488.0,224.9 L489.0,225.0 L490.0,225.2 L491.0,225.3 L492.0,225.3 L493.0,225.3 L494.0,225.3 L495.0,225.2 L496.0,225.1 L497.0,225.1 L498.0,225.0 L499.0,224.8 L500.0,224.6 L501.0,224.3 L502.0,224.0 L503.0,223.6 L504.0,223.2 L505.0,222.8 L506.0,222.4 L507.0,221.9 L508.0,221.3 L509.0,220.7 L510.0,220.1 L511.0,219.3 L512.0,218.5 L513.0,217.6 L514.0,216.7 L515.0,215.7 L516.0,214.7 L517.0,213.7 L518.0,212.7 L519.0,211.6 L520.0,210.5 L521.0,209.4 L522.0,208.3 L523.0,207.1 L524.0,205.9 L525.0,204.8 L526.0,203.6 L527.0,202.5 L528.0,201.5 L529.0,200.5 L530.0,199.5 L531.0,198.6 L532.0,197.8 L533.0,197.3 L534.0,196.8 L535.0,196.4 L536.0,196.2 L537.0,196.1 L538.0,196.1 L539.0,196.0 L540.0,196.0 L541.0,196.0 L542.0,196.4 L543.0,197.0 L544.0,197.7 L545.0,198.5 L546.0,199.5 L547.0,200.7 L548.0,201.9 L549.0,203.1 L550.0,204.3 L551.0,205.5 L552.0,206.8 L553.0,208.0 L554.0,209.2 L555.0,210.5 L556.0,211.9 L557.0,213.2 L558.0,214.4 L559.0,215.4 L560.0,216.4 L561.0,217.4 L562.0,218.2 L563.0,218.9 L564.0,219.3 L565.0,219.7 L566.0,220.0 L567.0,220.2 L568.0,220.5 L569.0,220.7 L570.0,220.9 L571.0,221.2 L572.0,221.4 L573.0,221.6 L574.0,221.9 L575.0,222.2 L576.0,222.4 L577.0,222.8 L578.0,223.2 L579.0,223.7 L580.0,224.3 L581.0,224.9 L582.0,225.5 L583.0,226.2 L584.0,226.9 L585.0,227.6 L586.0,228.3 L587.0,228.9 L588.0,229.5 L589.0,230.0 L590.0,230.5 L591.0,230.9 L592.0,231.2 L593.0,231.4 L594.0,231.6 L595.0,231.8 L596.0,231.9 L597.0,231.9 L598.0,231.9 L599.0,232.0 L600.0,232.0 L601.0,232.0 L602.0,232.0 L603.0,232.0 L604.0,232.1 L605.0,232.1 L606.0,232.2 L607.0,232.3 L608.0,232.4 L609.0,232.5 L610.0,232.6 L611.0,232.8 L612.0,233.0 L613.0,233.2 L614.0,233.4 L615.0,233.7 L616.0,233.9 L617.0,234.2 L618.0,234.5 L619.0,234.7 L620.0,235.0 L621.0,235.3 L622.0,235.6 L622.6,235.8" fill="none" stroke="#ff7f0e" stroke-width="1.75" stroke-linecap="square" stroke-linejoin="round"/>
<path d="M349.0,240.5 L350.0,240.1 L351.0,239.8 L352.0,239.5 L353.0,239.3 L354.0,239.2 L355.0,239.1 L356.0,239.1 L357.0,239.0 L358.0,239.0 L359.0,239.0 L360.0,239.0 L361.0,239.0 L362.0,239.1 L363.0,239.1 L364.0,239.2 L365.0,239.3 L366.0,239.3 L367.0,239.4 L368.0,239.5 L369.0,239.5 L370.0,239.6 L371.0,239.7 L372.0,239.8 L373.0,239.9 L374.0,239.9 L375.0,240.0 L376.0,240.1 L377.0,240.1 L378.0,240.2 L379.0,240.2 L380.0,240.3 L381.0,240.3 L382.0,240.4 L383.0,240.4 L384.0,240.5 L385.0,240.5 L386.0,240.5 L387.0,240.6 L388.0,240.6 L389.0,240.6 L390.0,240.7 L391.0,240.7 L392.0,240.8 L393.0,240.8 L394.0,240.9 L395.0,240.9 L396.0,240.9 L397.0,241.0 L398.0,241.1 L399.0,241.1 L400.0,241.2 L401.0,241.2 L402.0,241.2 L403.0,241.2 L404.0,241.0 L405.0,240.8 L406.0,240.6 L407.0,240.4 L408.0,240.1 L409.0,239.7 L410.0,239.3 L411.0,238.9 L412.0,238.5 L413.0,238.1 L414.0,237.7 L415.0,237.3 L416.0,236.8 L417.0,236.4 L418.0,236.0 L419.0,235.5 L420.0,235.1 L421.0,234.7 L422.0,234.3 L423.0,233.9 L424.0,233.6 L425.0,233.2 L426.0,232.9 L427.0,232.6 L428.0,232.4 L429.0,232.2 L430.0,232.0 L431.0,231.9 L432.0,231.7 L433.0,231.6 L434.0,231.5 L435.0,231.5 L436.0,231.5 L437.0,231.5 L438.0,231.5 L439.0,231.6 L440.0,231.6 L441.0,231.8 L442.0,232.0 L443.0,232.2 L444.0,232.5 L445.0,232.8 L446.0,233.1 L447.0,233.5 L448.0,233.9 L449.0,234.3 L450.0,234.7 L451.0,235.0 L452.0,235.4 L453.0,235.7 L454.0,236.0 L455.0,236.3 L456.0,236.5 L457.0,236.8 L458.0,237.0 L459.0,237.2 L460.0,237.5 L461.0,237.7 L462.0,237.9 L463.0,238.0 L464.0,238.2 L465.0,238.4 L466.0,238.5 L467.0,238.6 L468.0,238.8 L469.0,238.9 L470.0,239.0 L471.0,239.2 L472.0,239.3 L473.0,239.4 L474.0,239.5 L475.0,239.6 L476.0,239.7 L477.0,239.7 L478.0,239.8 L479.0,239.9 L480.0,239.9 L481.0,240.0 L482.0,240.1 L483.0,240.1 L484.0,240.2 L485.0,240.3 L486.0,240.4 L487.0,240.4 L488.0,240.5 L489.0,240.5 L490.0,240.5 L491.0,240.5 L492.0,240.5 L493.0,240.4 L494.0,240.4 L495.0,240.4 L496.0,240.4 L497.0,240.3 L498.0,240.3 L499.0,240.2 L500.0,240.2 L501.0,240.1 L502.0,240.0 L503.0,239.9 L504.0,239.8 L505.0,239.7 L506.0,239.6 L507.0,239.5 L508.0,239.5 L509.0,239.4 L510.0,239.3 L511.0,239.2 L512.0,239.1 L513.0,239.0 L514.0,239.0 L515.0,238.9 L516.0,238.8 L517.0,238.7 L518.0,238.7 L519.0,238.6 L520.0,238.5 L521.0,238.5 L522.0,238.4 L523.0,238.3 L524.0,238.3 L525.0,238.2 L526.0,238.1 L527.0,238.1 L528.0,238.1 L529.0,238.1 L530.0,238.1 L531.0,238.1 L532.0,238.1 L533.0,238.1 L534.0,238.2 L535.0,238.2 L536.0,238.2 L537.0,238.2 L538.0,238.2 L539.0,238.3 L540.0,238.3 L541.0,238.4 L542.0,238.4 L543.0,238.5 L544.0,238.5 L545.0,238.6 L546.0,238.6 L547.0,238.7 L548.0,238.8 L549.0,238.8 L550.0,238.9 L551.0,238.9 L552.0,238.9 L553.0,238.9 L554.0,238.9 L555.0,238.9 L556.0,238.9 L557.0,238.9 L558.0,238.9 L559.0,238.9 L560.0,238.9 L561.0,238.9 L562.0,238.8 L563.0,238.8 L564.0,238.7 L565.0,238.7 L566.0,238.6 L567.0,238.6 L568.0,238.5 L569.0,238.5 L570.0,238.4 L571.0,238.3 L572.0,238.2 L573.0,238.2 L574.0,238.1 L575.0,238.0 L576.0,237.9 L577.0,237.8 L578.0,237.7 L579.0,237.7 L580.0,237.6 L581.0,237.5 L582.0,237.4 L583.0,237.3 L584.0,237.3 L585.0,237.2 L586.0,237.1 L587.0,237.1 L588.0,237.0 L589.0,236.9 L590.0,236.9 L591.0,236.8 L592.0,236.8 L593.0,236.7 L594.0,236.7 L595.0,236.6 L596.0,236.5 L597.0,236.4 L598.0,236.3 L599.0,236.2 L600.0,236.1 L601.0,236.0 L602.0,235.9 L603.0,235.8 L604.0,235.7 L605.0,235.7 L606.0,235.6 L607.0,235.6 L608.0,235.6 L609.0,235.7 L610.0,235.8 L611.0,235.9 L612.0,236.1 L613.0,236.3 L614.0,236.6 L615.0,237.0 L616.0,237.4 L617.0,238.0 L618.0,238.5 L619.0,239.0 L620.0,239.5 L621.0,239.9 L622.0,240.3 L622.6,240.5" fill="none" stroke="#ff7f0e" stroke-width="1.75" stroke-dasharray="6.45 2.8" stroke-linecap="butt" stroke-linejoin="round"/>
</g>
<line x1="346.60" y1="252.10" x2="346.60" y2="255.15" stroke="#000" stroke-width="0.7"/>
<line x1="393.02" y1="252.10" x2="393.02" y2="255.15" stroke="#000" stroke-width="0.7"/>
<line x1="439.43" y1="252.10" x2="439.43" y2="255.15" stroke="#000" stroke-width="0.7"/>
<line x1="485.85" y1="252.10" x2="485.85" y2="255.15" stroke="#000" stroke-width="0.7"/>
<line x1="532.27" y1="252.10" x2="532.27" y2="255.15" stroke="#000" stroke-width="0.7"/>
<line x1="578.68" y1="252.10" x2="578.68" y2="255.15" stroke="#000" stroke-width="0.7"/>
<line x1="625.10" y1="252.10" x2="625.10" y2="255.15" stroke="#000" stroke-width="0.7"/>
<line x1="343.55" y1="241.45" x2="346.60" y2="241.45" stroke="#000" stroke-width="0.7"/>
<line x1="343.55" y1="208.16" x2="346.60" y2="208.16" stroke="#000" stroke-width="0.7"/>
<line x1="343.55" y1="174.87" x2="346.60" y2="174.87" stroke="#000" stroke-width="0.7"/>
<line x1="343.55" y1="141.58" x2="346.60" y2="141.58" stroke="#000" stroke-width="0.7"/>
<line x1="343.55" y1="108.29" x2="346.60" y2="108.29" stroke="#000" stroke-width="0.7"/>
<line x1="343.55" y1="75.00" x2="346.60" y2="75.00" stroke="#000" stroke-width="0.7"/>
<line x1="343.55" y1="41.71" x2="346.60" y2="41.71" stroke="#000" stroke-width="0.7"/>
<rect x="346.60" y="15.10" width="278.50" height="237.00" fill="none" stroke="#000" stroke-width="0.7"/>
<text x="337.71" y="265.10" font-size="9.20" textLength="6.66" lengthAdjust="spacingAndGlyphs" fill="#000" stroke="#000" stroke-width="0.12" >−</text><text x="344.70" y="265.10" font-size="9.20" textLength="11.15" lengthAdjust="spacingAndGlyphs" fill="#000" stroke="#000" stroke-width="0.12" >90</text>
<text x="384.12" y="265.10" font-size="9.20" textLength="6.66" lengthAdjust="spacingAndGlyphs" fill="#000" stroke="#000" stroke-width="0.12" >−</text><text x="391.12" y="265.10" font-size="9.20" textLength="11.15" lengthAdjust="spacingAndGlyphs" fill="#000" stroke="#000" stroke-width="0.12" >60</text>
<text x="430.54" y="265.10" font-size="9.20" textLength="6.66" lengthAdjust="spacingAndGlyphs" fill="#000" stroke="#000" stroke-width="0.12" >−</text><text x="437.53" y="265.10" font-size="9.20" textLength="11.15" lengthAdjust="spacingAndGlyphs" fill="#000" stroke="#000" stroke-width="0.12" >30</text>
<text x="483.06" y="265.10" font-size="9.20" textLength="5.57" lengthAdjust="spacingAndGlyphs" fill="#000" stroke="#000" stroke-width="0.12" >0</text>
<text x="526.69" y="265.10" font-size="9.20" textLength="11.15" lengthAdjust="spacingAndGlyphs" fill="#000" stroke="#000" stroke-width="0.12" >30</text>
<text x="573.11" y="265.10" font-size="9.20" textLength="11.15" lengthAdjust="spacingAndGlyphs" fill="#000" stroke="#000" stroke-width="0.12" >60</text>
<text x="619.53" y="265.10" font-size="9.20" textLength="11.15" lengthAdjust="spacingAndGlyphs" fill="#000" stroke="#000" stroke-width="0.12" >90</text>
<text x="467.82" y="276.30" font-size="9.20" textLength="36.06" lengthAdjust="spacingAndGlyphs" fill="#000" stroke="#000" stroke-width="0.12" >Latitude</text>
<text x="28.33" y="244.75" font-size="9.20" textLength="5.57" lengthAdjust="spacingAndGlyphs" fill="#000" stroke="#000" stroke-width="0.12" >0</text>
<text x="22.75" y="211.46" font-size="9.20" textLength="11.15" lengthAdjust="spacingAndGlyphs" fill="#000" stroke="#000" stroke-width="0.12" >20</text>
<text x="22.75" y="178.17" font-size="9.20" textLength="11.15" lengthAdjust="spacingAndGlyphs" fill="#000" stroke="#000" stroke-width="0.12" >40</text>
<text x="22.75" y="144.88" font-size="9.20" textLength="11.15" lengthAdjust="spacingAndGlyphs" fill="#000" stroke="#000" stroke-width="0.12" >60</text>
<text x="22.75" y="111.59" font-size="9.20" textLength="11.15" lengthAdjust="spacingAndGlyphs" fill="#000" stroke="#000" stroke-width="0.12" >80</text>
<text x="17.18" y="78.30" font-size="9.20" textLength="16.72" lengthAdjust="spacingAndGlyphs" fill="#000" stroke="#000" stroke-width="0.12" >100</text>
<text x="17.18" y="45.01" font-size="9.20" textLength="16.72" lengthAdjust="spacingAndGlyphs" fill="#000" stroke="#000" stroke-width="0.12" >120</text>
<g transform="translate(11.3,182.9) rotate(-90)">
<text x="0.00" y="0.00" font-size="9.20" textLength="51.72" lengthAdjust="spacingAndGlyphs" fill="#000" stroke="#000" stroke-width="0.12" >Wind Stress</text>
<text x="55.30" y="0.00" font-size="9.20" textLength="3.42" lengthAdjust="spacingAndGlyphs" fill="#000" stroke="#000" stroke-width="0.12" >[</text>
<text x="62.51" y="0.00" font-size="9.20" textLength="23.62" lengthAdjust="spacingAndGlyphs" fill="#000" stroke="#000" stroke-width="0.12" font-style="italic">mNm</text>
<text x="86.97" y="-2.90" font-size="6.44" textLength="4.66" lengthAdjust="spacingAndGlyphs" fill="#000" stroke="#000" stroke-width="0.08" >−</text><text x="91.86" y="-2.90" font-size="6.44" textLength="3.90" lengthAdjust="spacingAndGlyphs" fill="#000" stroke="#000" stroke-width="0.08" >2</text>
<text x="96.06" y="0.00" font-size="9.20" textLength="3.42" lengthAdjust="spacingAndGlyphs" fill="#000" stroke="#000" stroke-width="0.12" >]</text>
</g>
<text x="145.89" y="9.60" font-size="12.60" textLength="16.99" lengthAdjust="spacingAndGlyphs" fill="#000" stroke="#000" stroke-width="0.16" >(a)</text><text x="171.24" y="9.60" font-size="12.60" textLength="6.46" lengthAdjust="spacingAndGlyphs" fill="#000" stroke="#000" stroke-width="0.16" font-style="italic">L</text><text x="178.74" y="11.80" font-size="9.83" textLength="4.23" lengthAdjust="spacingAndGlyphs" fill="#000" stroke="#000" stroke-width="0.13" font-style="italic">s</text><text x="185.80" y="9.60" font-size="12.60" textLength="8.27" lengthAdjust="spacingAndGlyphs" fill="#000" stroke="#000" stroke-width="0.16" >=</text><text x="196.99" y="9.60" font-size="12.60" textLength="15.52" lengthAdjust="spacingAndGlyphs" fill="#000" stroke="#000" stroke-width="0.16" >90</text>
<text x="448.18" y="9.60" font-size="12.60" textLength="17.26" lengthAdjust="spacingAndGlyphs" fill="#000" stroke="#000" stroke-width="0.16" >(b)</text><text x="473.80" y="9.60" font-size="12.60" textLength="6.46" lengthAdjust="spacingAndGlyphs" fill="#000" stroke="#000" stroke-width="0.16" font-style="italic">L</text><text x="481.29" y="11.80" font-size="9.83" textLength="4.23" lengthAdjust="spacingAndGlyphs" fill="#000" stroke="#000" stroke-width="0.13" font-style="italic">s</text><text x="488.36" y="9.60" font-size="12.60" textLength="8.27" lengthAdjust="spacingAndGlyphs" fill="#000" stroke="#000" stroke-width="0.16" >=</text><text x="499.55" y="9.60" font-size="12.60" textLength="23.28" lengthAdjust="spacingAndGlyphs" fill="#000" stroke="#000" stroke-width="0.16" >270</text>
<rect x="128.3" y="19.4" width="186.4" height="27.6" rx="1.8" ry="1.8" fill="#ffffff" fill-opacity="0.8" stroke="#cccccc" stroke-opacity="0.8" stroke-width="0.87"/>
<line x1="131.9" y1="26.4" x2="150.6" y2="26.4" stroke="#ff7f0e" stroke-width="1.75"/>
<line x1="132.6" y1="39.2" x2="150.0" y2="39.2" stroke="#ff7f0e" stroke-width="1.75" stroke-dasharray="6.45 2.8"/>
<text x="157.30" y="29.50" font-size="9.20" textLength="51.72" lengthAdjust="spacingAndGlyphs" fill="#000" stroke="#000" stroke-width="0.12" >Wind Stress</text>
<text x="157.30" y="42.50" font-size="9.20" textLength="154.16" lengthAdjust="spacingAndGlyphs" fill="#000" stroke="#000" stroke-width="0.12" >Contribution of ZMC to Wind Stress</text>
</svg>
</body></html>
